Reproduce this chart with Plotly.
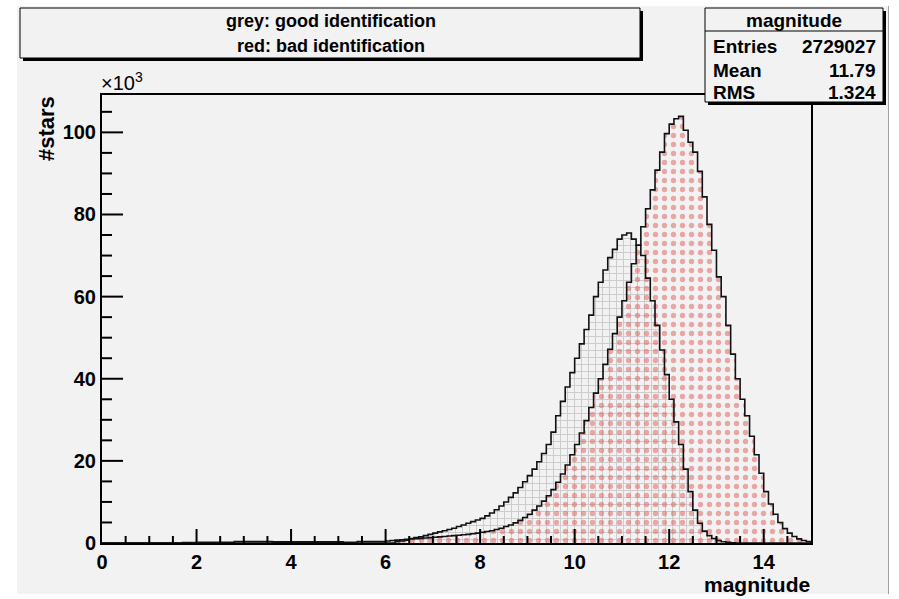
import plotly.graph_objects as go

# ---------------- data (thousands of stars per 0.1 mag bin) ----------------
x_min, x_max, n_bins = 0.0, 15.0, 150

good_id = (
    [0.0] * 17 +                      # 0.0 - 1.6
    [0.1] * 3 +                       # 1.7 - 1.9
    [0.2] * 8 +                       # 2.0 - 2.7
    [0.35] * 8 +                      # 2.8 - 3.5
    [0.3] * 15 +                      # 3.6 - 5.0
    [0.15] * 3 +                      # 5.1 - 5.3
    [0.35] * 6 +                      # 5.4 - 5.9
    [0.5, 0.6, 0.7, 0.8, 0.9, 1.1, 1.3, 1.5, 1.8, 2.1,          # 6.0 - 6.9
     2.4, 2.7, 3.0, 3.3, 3.6, 4.0, 4.4, 4.8, 5.2, 5.6,          # 7.0 - 7.9
     6.0, 6.6, 7.3, 8.1, 9.0, 10.0, 11.1, 12.2, 13.5, 14.9,     # 8.0 - 8.9
     16.4, 18.0, 19.8, 21.8, 24.0, 27.0, 31.0, 34.5, 38.0, 41.5,  # 9.0 - 9.9
     45.0, 48.5, 52.0, 55.5, 60.0, 63.5, 66.5, 69.5, 71.5, 74.0,  # 10.0 - 10.9
     75.0, 75.5, 74.0, 72.5, 70.0, 64.5, 59.0, 53.0, 47.0, 41.0,  # 11.0 - 11.9
     35.0, 29.5, 24.0, 18.0, 12.5, 8.0, 4.8, 2.9, 1.8, 1.1,     # 12.0 - 12.9
     0.6, 0.3, 0.15, 0.05] +                                    # 13.0 - 13.3
    [0.0] * 16                        # 13.4 - 14.9
)

bad_id = (
    [0.0] * 36 +                      # 0.0 - 3.5
    [0.15] * 15 +                     # 3.6 - 5.0
    [0.0] * 11 +                      # 5.1 - 6.1
    [0.3, 0.5, 0.7, 1.0, 1.05, 1.1, 1.2, 1.3,                   # 6.2 - 6.9
     1.4, 1.5, 1.6, 1.7, 1.8, 1.9, 2.0, 2.1, 2.25, 2.4,         # 7.0 - 7.9
     2.6, 2.8, 3.0, 3.3, 3.6, 4.0, 4.4, 4.9, 5.5, 6.2,          # 8.0 - 8.9
     7.0, 8.0, 9.0, 10.2, 11.5, 13.0, 14.8, 16.8, 19.0, 21.5,   # 9.0 - 9.9
     24.0, 26.8, 29.8, 33.0, 36.5, 40.0, 43.5, 47.2, 51.0, 55.0,  # 10.0 - 10.9
     59.0, 63.5, 68.0, 72.5, 77.0, 81.4, 86.0, 90.8, 95.2, 99.7,  # 11.0 - 11.9
     102.0, 103.3, 103.9, 100.5, 97.6, 95.2, 90.5, 84.3, 77.6, 71.3,  # 12.0 - 12.9
     64.8, 60.0, 53.0, 46.0, 40.0, 35.0, 31.0, 26.0, 21.5, 17.0,  # 13.0 - 13.9
     12.5, 9.5, 7.0, 5.0, 3.5, 2.4, 1.6, 1.0, 0.6, 0.35]        # 14.0 - 14.9
)

x_major_step, x_minor_step = 2, 0.5
y_major_step, y_minor_step = 20, 5
y_top = 109.1

legend_lines = ["grey: good identification", "red: bad identification"]
stats_title = "magnitude"
stats_rows = [("Entries", "2729027"), ("Mean", "11.79"), ("RMS", "1.324")]

# ---------------- geometry helpers ----------------
bw = (x_max - x_min) / n_bins
edges = [x_min + bw * i for i in range(n_bins + 1)]
centers = [x_min + bw * (i + 0.5) for i in range(n_bins)]


def outline(vals):
    xs = [edges[0]] + edges[:n_bins] + [edges[-1], edges[-1]]
    ys = [0.0] + list(vals) + [vals[-1], 0.0]
    return xs, ys


W, H = 899, 599
L, R, T, B = 102, 811, 95, 543


def px(x):
    return (x - L) / (R - L)


def py(y):
    return (B - y) / (B - T)


CANVAS = "#f2f2f2"
FONT = "Liberation Sans"

fig = go.Figure()

fig.add_trace(go.Bar(
    x=centers, y=good_id, width=bw,
    marker=dict(color="rgba(0,0,0,0)", line=dict(width=0),
                pattern=dict(shape="+", fgcolor="#a4a4a4", size=7,
                             solidity=0.25, fillmode="overlay")),
    hoverinfo="skip"))
fig.add_trace(go.Bar(
    x=centers, y=bad_id, width=bw,
    marker=dict(color="rgba(0,0,0,0)", line=dict(width=0),
                pattern=dict(shape=".", fgcolor="#e05a5a", size=9,
                             solidity=0.28, fillmode="overlay")),
    hoverinfo="skip"))

gx, gy = outline(good_id)
fig.add_trace(go.Scatter(x=gx, y=gy, mode="lines", line=dict(color="#111", width=1.6, shape="hv"),
                         hoverinfo="skip"))
bx, by = outline(bad_id)
fig.add_trace(go.Scatter(x=bx, y=by, mode="lines", line=dict(color="#111", width=1.6, shape="hv"),
                         hoverinfo="skip"))

tickfont = dict(family=FONT, size=20, color="black", weight="bold")

fig.update_layout(
    width=W, height=H,
    margin=dict(l=L, r=W - R, t=T, b=H - B, pad=0),
    paper_bgcolor=CANVAS, plot_bgcolor=CANVAS,
    barmode="overlay", bargap=0, showlegend=False,
    xaxis=dict(range=[x_min, x_max], showgrid=False, zeroline=False,
               showline=True, linecolor="#000000", linewidth=2, mirror=True,
               tickmode="linear", tick0=0, dtick=x_major_step,
               ticks="", tickfont=tickfont),
    yaxis=dict(range=[0, y_top], showgrid=False, zeroline=False,
               showline=True, linecolor="#000000", linewidth=2, mirror=True,
               tickmode="linear", tick0=0, dtick=y_major_step,
               ticks="", tickfont=tickfont),
)

shapes = []

# ---- axis ticks, ROOT style (pointing into the frame), placed in paper units ----
n_xt = int(round((x_max - x_min) / x_minor_step))
for k in range(1, n_xt):
    v = x_min + k * x_minor_step
    major = abs(v / x_major_step - round(v / x_major_step)) < 1e-9
    ln = 14 if major else 7
    xf = (v - x_min) / (x_max - x_min)
    shapes.append(dict(type="line", xref="paper", yref="paper", layer="above",
                       x0=xf, x1=xf, y0=0, y1=ln / (B - T),
                       line=dict(color="black", width=2)))
n_yt = int(y_top // y_minor_step)
for k in range(1, n_yt + 1):
    v = k * y_minor_step
    major = v % y_major_step == 0
    ln = 21 if major else 10
    yf = v / y_top
    shapes.append(dict(type="line", xref="paper", yref="paper", layer="above",
                       x0=0, x1=ln / (R - L), y0=yf, y1=yf,
                       line=dict(color="black", width=2)))

# white page border around the grey canvas (edges only)
for (a0, b0, a1, b1) in [(0, 0, 17, H), (888, 0, W, H), (0, 0, W, 6), (0, 594, W, H)]:
    shapes.append(dict(type="rect", xref="paper", yref="paper", layer="above",
                       x0=px(a0), x1=px(a1), y0=py(b1), y1=py(b0),
                       fillcolor="white", line=dict(width=0)))
shapes.append(dict(type="line", xref="paper", yref="paper",
                   x0=px(888.5), x1=px(888.5), y0=py(594), y1=py(6),
                   line=dict(color="#a0a0a0", width=1)))


def pave(x0, y0, x1, y1):
    shapes.append(dict(type="rect", xref="paper", yref="paper",
                       x0=px(x0 + 3), x1=px(x1 + 3), y0=py(y1 + 3), y1=py(y0 + 3),
                       fillcolor="black", line=dict(width=0)))
    shapes.append(dict(type="rect", xref="paper", yref="paper",
                       x0=px(x0), x1=px(x1), y0=py(y1), y1=py(y0),
                       fillcolor=CANVAS, line=dict(color="black", width=1)))


pave(20, 8, 640, 58)
pave(705, 8, 883, 102)
shapes.append(dict(type="line", xref="paper", yref="paper",
                   x0=px(705), x1=px(883), y0=py(31), y1=py(31),
                   line=dict(color="black", width=1)))
fig.update_layout(shapes=shapes)

ann = []


def text(s, x, y, size, xanchor="center", yanchor="middle", bold=True, angle=0):
    ann.append(dict(text=s, x=px(x), y=py(y), xref="paper", yref="paper",
                    xanchor=xanchor, yanchor=yanchor, showarrow=False, textangle=angle,
                    font=dict(family=FONT, size=size, color="black",
                              weight="bold" if bold else "normal")))


text(legend_lines[0], 331, 21, 18)
text(legend_lines[1], 331, 46, 18)
text(stats_title, 794, 20, 19)
for (lab, val), yy in zip(stats_rows, [46, 70, 93]):
    text(lab, 711, yy, 19, xanchor="left")
    text(val, 878, yy, 19, xanchor="right")

text("#stars", 47, 129, 22, angle=-90)
text("magnitude", 812, 584, 21, xanchor="right")
text("×10<sup>3</sup>", 99, 96, 20, xanchor="left", yanchor="bottom", bold=False)

fig.update_layout(annotations=ann)

fig.write_html("out.html", config={"displayModeBar": False})
